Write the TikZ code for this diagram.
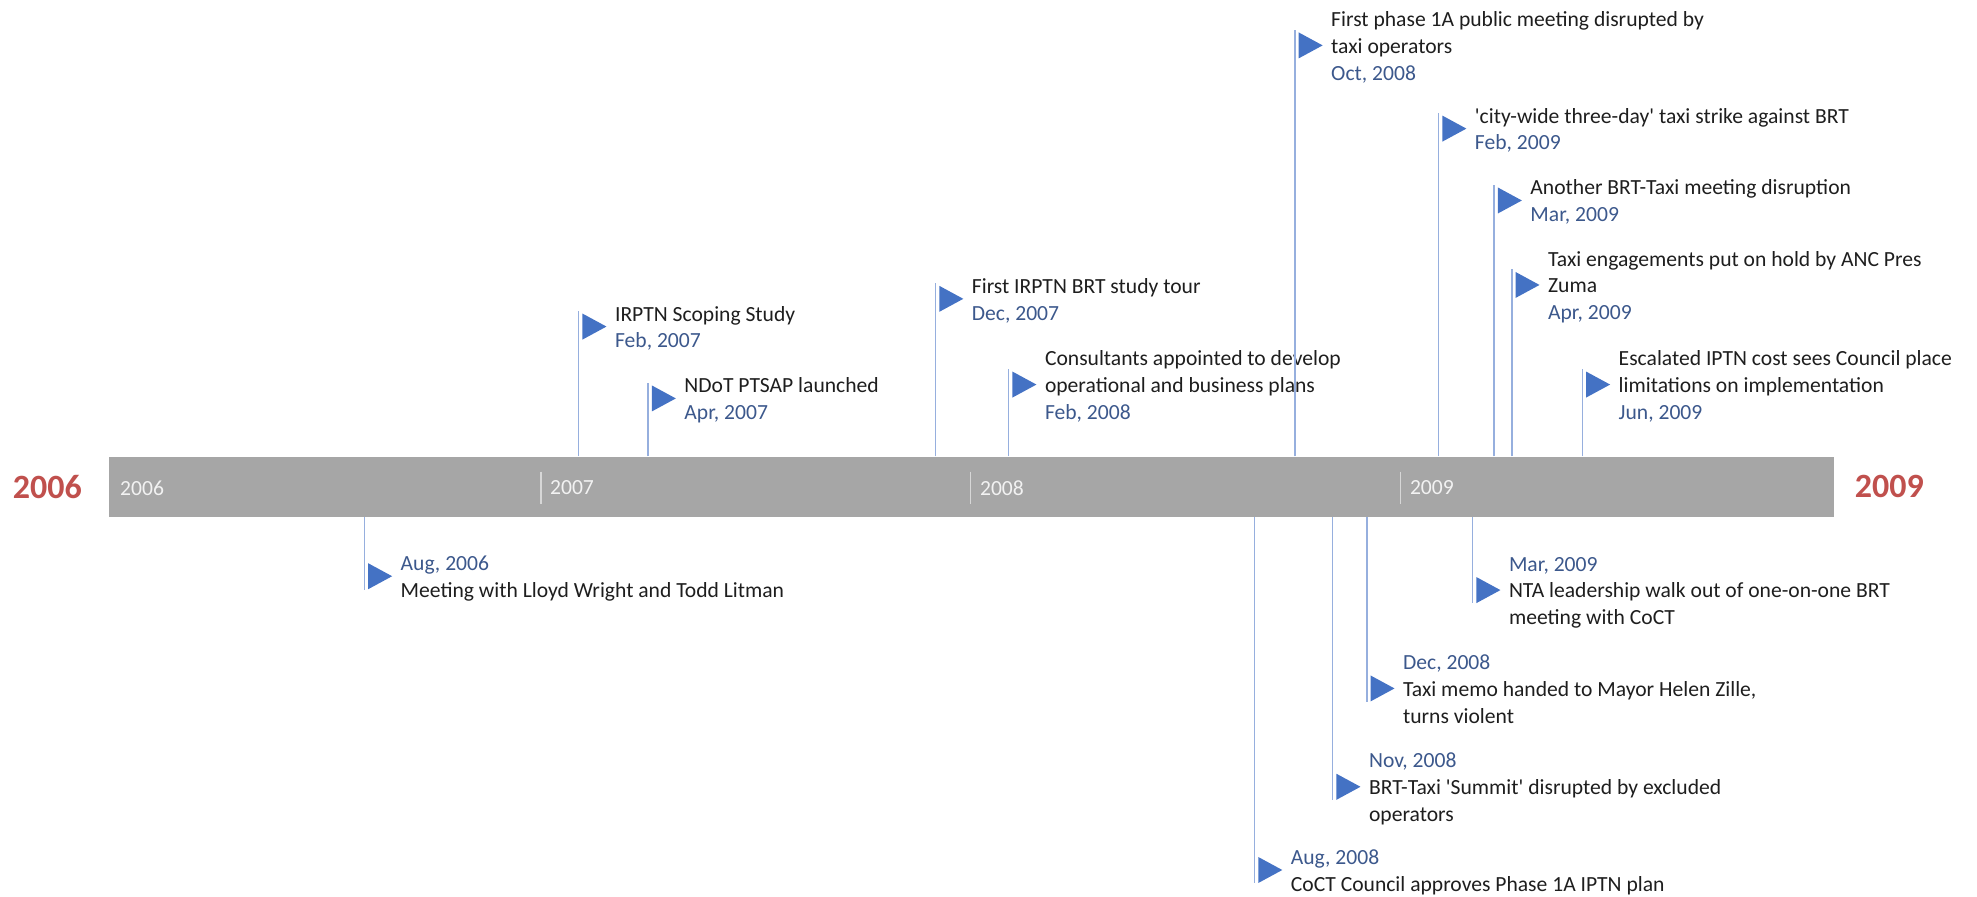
\documentclass[tikz,border=0pt]{standalone}
\usepackage{fontspec}
\setmainfont{Carlito}[Ligatures=TeXOff]
\definecolor{bargray}{RGB}{166,166,166}
\definecolor{sepgray}{RGB}{215,215,215}
\definecolor{bartext}{RGB}{242,242,242}
\definecolor{yearred}{RGB}{192,80,77}
\definecolor{flagblue}{RGB}{68,114,196}
\definecolor{stemblue}{RGB}{150,175,222}
\definecolor{datecol}{RGB}{60,88,140}
\definecolor{titlecol}{RGB}{30,30,30}

% one event above the bar: id, stem x, block centre y, title, date
\newcommand{\eventabove}[5]{%
  \coordinate (s#1) at (#2,362);
  \node[flag] (f#1) at (#2+12.5,#3) {};
  \node[evtext] (t#1) at (#2+28.5,#3+2) {\strut #4\\{\color{datecol}#5\strut}};
  \draw[stem] (s#1) -- ([yshift=1.2pt]s#1 |- f#1.north);
}
% one event below the bar: id, stem x, block centre y, date, title
\newcommand{\eventbelow}[5]{%
  \coordinate (s#1) at (#2,410);
  \node[flag] (f#1) at (#2+12.5,#3) {};
  \node[evtext] (t#1) at (#2+28.5,#3+2) {\strut{\color{datecol}#4}\\#5\strut};
  \draw[stem] (s#1) -- (s#1 |- f#1.south);
}

\begin{document}
\begin{tikzpicture}[x=0.6305pt,y=-0.6305pt,
  bodyfont/.style={font=\fontsize{10.8}{13.37}\selectfont},
  evtext/.style={bodyfont, anchor=west, align=left, inner sep=0pt, text=titlecol},
  flag/.style={minimum width=12pt, minimum height=13pt, inner sep=0pt,
    path picture={\fill[flagblue] (path picture bounding box.north west)
      -- (path picture bounding box.east) -- (path picture bounding box.south west) -- cycle;}},
  stem/.style={draw=stemblue, line width=0.75pt},
  yearbig/.style={font=\fontsize{17}{20}\selectfont\bfseries, text=yearred, inner sep=0pt},
  yearbar/.style={bodyfont, text=bartext, anchor=west, inner sep=0pt},
  sep/.style={draw=sepgray, line width=0.6pt}]
\useasboundingbox (0,0) rectangle (1568,711);

% the time bar
\node[fill=bargray, minimum width=862.5pt, minimum height=30.26pt, inner sep=0pt,
  anchor=north west] (bar) at (86,362) {};
\node[yearbar] (y06) at (95,387) {2006};
\node[yearbar] (y07) at (436,387) {2007};
\node[yearbar] (y08) at (777,387) {2008};
\node[yearbar] (y09) at (1118,387) {2009};
\foreach \yr in {07,08,09}
  \draw[sep] ([xshift=-4.4pt,yshift=8.2pt]y\yr.west) -- ([xshift=-4.4pt,yshift=-8.2pt]y\yr.west);

% start and end years
\node[yearbig] (start) at (37.5,386) {2006};
\node[yearbig] (end) at (1498.5,386) {2009};

% events above the bar
\eventabove{1}{459}{259}{IRPTN Scoping Study}{Feb, 2007}
\eventabove{2}{514}{316}{NDoT PTSAP launched}{Apr, 2007}
\eventabove{3}{742}{237}{First IRPTN BRT study tour}{Dec, 2007}
\eventabove{4}{800}{305}{Consultants appointed to develop\\operational and business plans}{Feb, 2008}
\eventabove{5}{1027}{36}{First phase 1A public meeting disrupted by\\taxi operators}{Oct, 2008}
\eventabove{6}{1141}{102}{'city-wide three-day' taxi strike against BRT}{Feb, 2009}
\eventabove{7}{1185}{159}{Another BRT-Taxi meeting disruption}{Mar, 2009}
\eventabove{8}{1199}{226}{Taxi engagements put on hold by ANC Pres\\Zuma}{Apr, 2009}
\eventabove{9}{1255}{305}{Escalated IPTN cost sees Council place\\limitations on implementation}{Jun, 2009}

% events below the bar
\eventbelow{10}{289}{457}{Aug, 2006}{Meeting with Lloyd Wright and Todd Litman}
\eventbelow{11}{995}{690}{Aug, 2008}{CoCT Council approves Phase 1A IPTN plan}
\eventbelow{12}{1057}{624}{Nov, 2008}{BRT-Taxi 'Summit' disrupted by excluded\\operators}
\eventbelow{13}{1084}{546}{Dec, 2008}{Taxi memo handed to Mayor Helen Zille,\\turns violent}
\eventbelow{14}{1168}{468}{Mar, 2009}{NTA leadership walk out of one-on-one BRT\\meeting with CoCT}
\end{tikzpicture}
\end{document}
